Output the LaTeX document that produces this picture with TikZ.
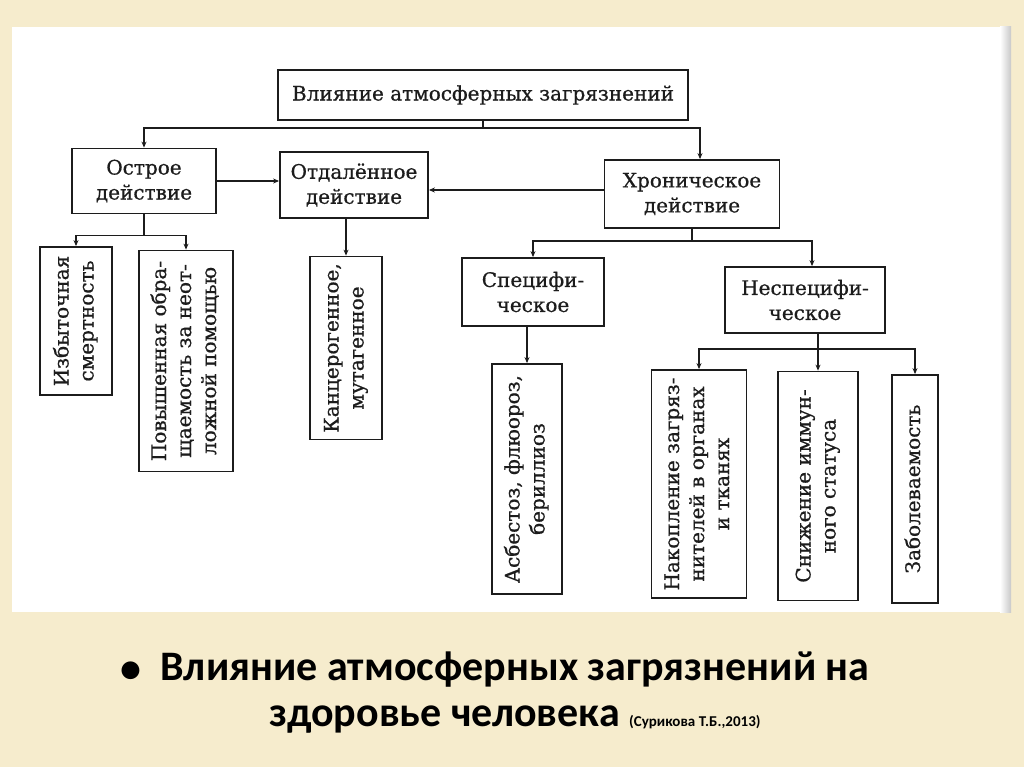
\documentclass[tikz,border=0pt]{standalone}
\usepackage{fontspec}
\setmainfont{DejaVu Serif}
\newfontfamily\boxfont[FakeBold=0.7]{DejaVu Serif}
\newfontfamily\capfont{Carlito}
\usepackage{graphicx}
\usetikzlibrary{arrows.meta,positioning,calc}
\definecolor{Paper}{HTML}{F6ECCD}
\definecolor{Ink}{HTML}{1C1C1C}
\definecolor{Shadow}{HTML}{C8C8C8}
\newcommand{\vtext}[1]{\rotatebox{90}{\begin{tabular}{@{}c@{}}#1\end{tabular}}}
\tikzset{
  box/.style={draw=Ink,line width=1.8pt,fill=white,align=center,text=Ink,
    inner sep=2pt,font=\boxfont\fontsize{20}{25}\selectfont},
  vbox/.style={box},
  link/.style={draw=Ink,line width=1.4pt},
  arrow/.style={link,-{Stealth[length=6pt,width=5pt]}},
  caption/.style={font=\capfont\bfseries\fontsize{42}{46}\selectfont,text=black}
}

\begin{document}
\begin{tikzpicture}[x=1pt,y=-1pt]
  \useasboundingbox (0,0) rectangle (1024,767);
  \fill[Paper] (0,0) rectangle (1024,767);
  \fill[white] (12,27) rectangle (1000,612);
  \shade[left color=white,right color=Shadow] (1000,27) rectangle (1011,612);

  % upper level
  \node[box,minimum width=410pt,minimum height=50pt] (top) at (483,95)
    {Влияние атмосферных загрязнений};
  \node[box,minimum width=144pt,minimum height=65pt] (acute) at (144,181)
    {Острое\\действие};
  \node[box,minimum width=148pt,minimum height=66pt] (remote) at (354,185)
    {Отдалённое\\действие};
  \node[box,minimum width=175pt,minimum height=68pt] (chronic) at (692,194)
    {Хроническое\\действие};
  \node[box,minimum width=142pt,minimum height=68pt] (spec) at (533,292)
    {Специфи-\\ческое};
  \node[box,minimum width=160pt,minimum height=66pt] (nonspec) at (805,300)
    {Неспецифи-\\ческое};

  % vertical boxes
  \node[vbox,minimum width=72pt,minimum height=148pt] (excess) at (76,321)
    {\vtext{Избыточная\\смертность}};
  \node[vbox,minimum width=94pt,minimum height=221pt] (visits) at (186,361)
    {\vtext{Повышенная обра-\\щаемость за неот-\\ложной помощью}};
  \node[vbox,minimum width=72pt,minimum height=183pt] (cancer) at (346,348)
    {\vtext{Канцерогенное,\\мутагенное}};
  \node[vbox,minimum width=70pt,minimum height=230pt] (asb) at (527,479)
    {\vtext{Асбестоз, флюороз,\\бериллиоз}};
  \node[vbox,minimum width=95pt,minimum height=228pt] (accum) at (699,484)
    {\vtext{Накопление загряз-\\нителей в органах\\и тканях}};
  \node[vbox,minimum width=80pt,minimum height=229pt] (immune) at (818,486)
    {\vtext{Снижение иммун-\\ного статуса}};
  \node[vbox,minimum width=46pt,minimum height=228pt] (morb) at (915,489)
    {\vtext{Заболеваемость}};

  % connectors
  \draw[link] (top.south) -- ++(0,7) coordinate (bus1);
  \draw[arrow] (bus1) -| (acute.north);
  \draw[arrow] (bus1) -| ([xshift=8pt]chronic.north);
  \draw[arrow] (acute.east) -- (acute.east -| remote.west);
  \draw[arrow] ([yshift=-5pt]chronic.west |- remote.east) -- ([yshift=-5pt]remote.east);

  \draw[link] (acute.south) -- ++(0,21) coordinate (bus2);
  \draw[arrow] (bus2) -| (excess.north);
  \draw[arrow] (bus2) -| (visits.north);
  \draw[arrow] (remote.south -| cancer.north) -- (cancer.north);

  \draw[link] (chronic.south) -- ++(0,12) coordinate (bus3);
  \draw[arrow] (bus3) -| (spec.north);
  \draw[arrow] (bus3) -| ([xshift=7pt]nonspec.north);
  \draw[arrow] (spec.south -| asb.north) -- (asb.north);

  \draw[link] (nonspec.south -| immune.north) -- ++(0,15) coordinate (bus4);
  \draw[arrow] (bus4) -| (accum.north);
  \draw[arrow] (bus4) -- (immune.north);
  \draw[arrow] (bus4) -| (morb.north);

  % caption
  \node[caption,align=center] (title) at (515,693)
    {Влияние атмосферных загрязнений на\\здоровье человека
     {\fontsize{15}{16}\selectfont(Сурикова Т.Б.,2013)}};
  \node[caption,anchor=east] (bullet) at ($(title.north west)+(-12,23)$) {•};
\end{tikzpicture}
\end{document}
